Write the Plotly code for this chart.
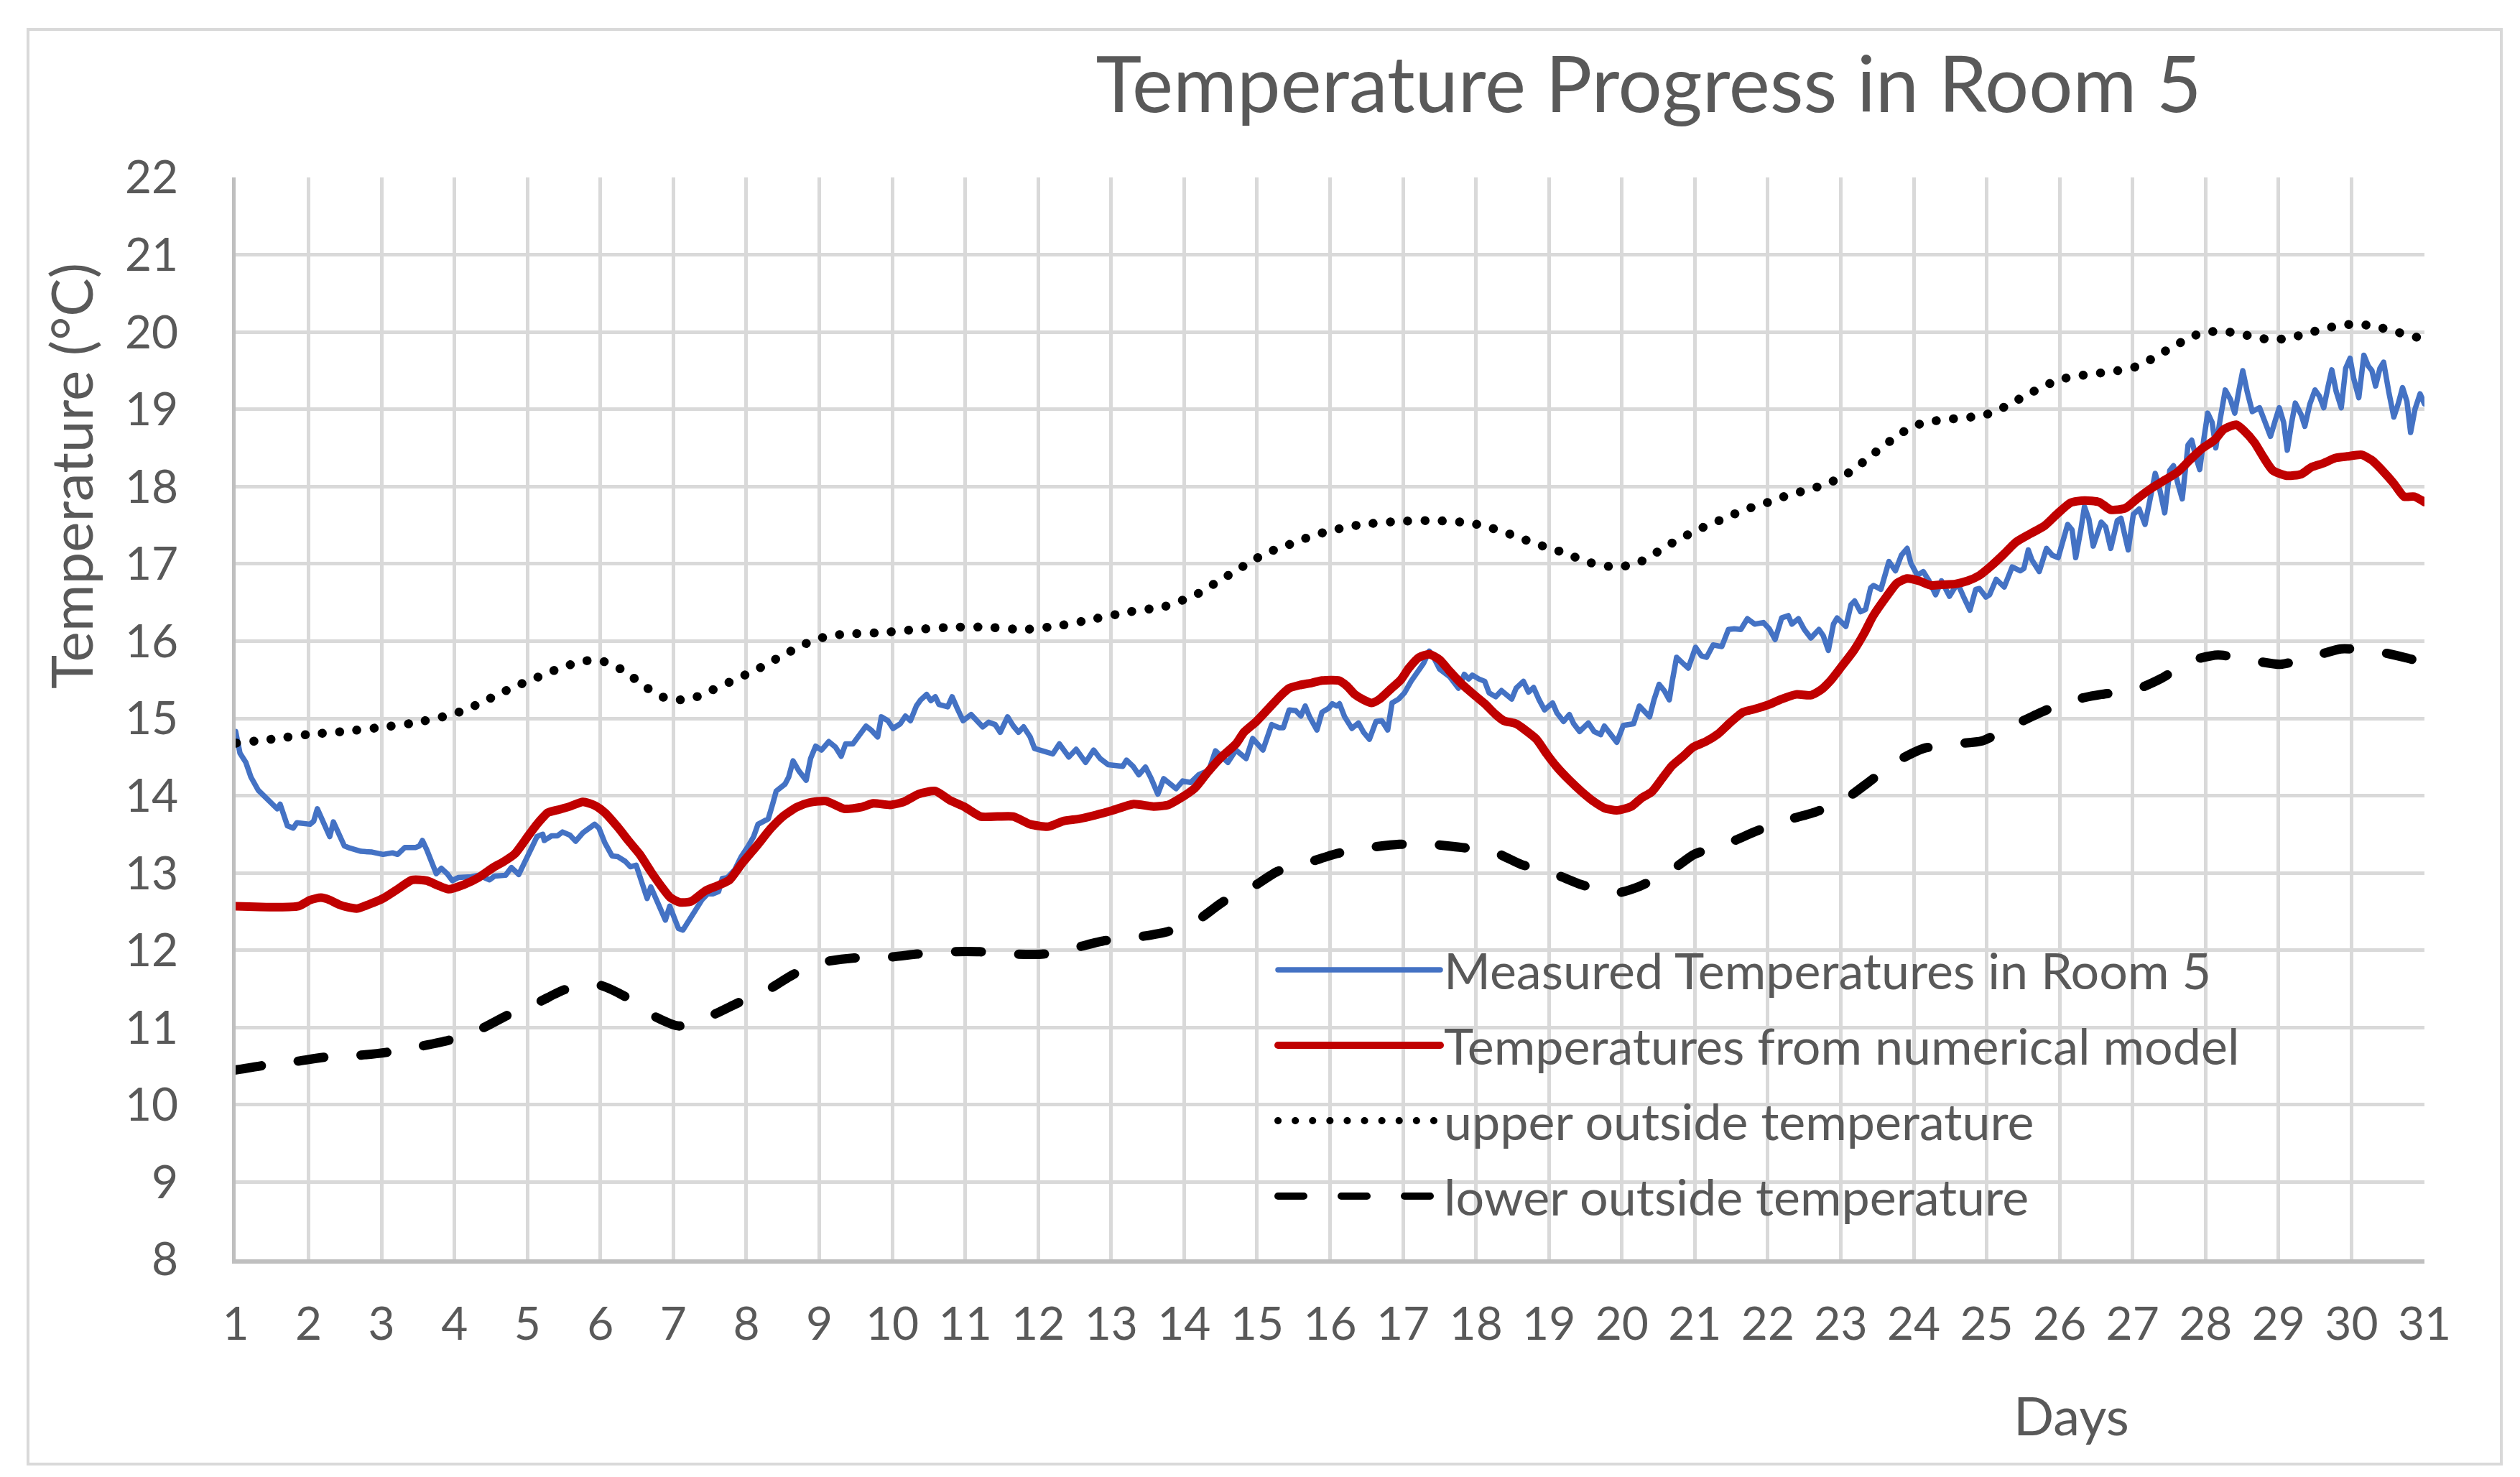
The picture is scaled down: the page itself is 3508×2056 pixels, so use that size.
import plotly.graph_objects as go

# ---------------- data ----------------
measured_day = [
    1.00, 1.06, 1.14, 1.21, 1.31, 1.41, 1.51, 1.57, 1.61, 1.66, 1.71, 1.79, 1.84, 2.02, 2.07, 2.12,
    2.19, 2.29, 2.34, 2.42, 2.49, 2.57, 2.72, 2.87, 3.02, 3.15, 3.22, 3.32, 3.47, 3.52, 3.56, 3.62,
    3.70, 3.75, 3.82, 3.90, 3.97, 4.05, 4.23, 4.33, 4.48, 4.55, 4.70, 4.78, 4.88, 4.95, 5.06, 5.13,
    5.21, 5.23, 5.33, 5.41, 5.48, 5.58, 5.66, 5.76, 5.86, 5.92, 5.98, 6.06, 6.16, 6.24, 6.34, 6.41,
    6.49, 6.56, 6.64, 6.69, 6.76, 6.84, 6.89, 6.95, 7.02, 7.07, 7.13, 7.19, 7.29, 7.39, 7.47, 7.54,
    7.62, 7.67, 7.74, 7.84, 7.93, 8.02, 8.10, 8.16, 8.24, 8.30, 8.36, 8.41, 8.53, 8.58, 8.64, 8.72,
    8.82, 8.88, 8.95, 9.03, 9.13, 9.22, 9.30, 9.36, 9.46, 9.51, 9.64, 9.71, 9.80, 9.85, 9.94, 10.01,
    10.11, 10.18, 10.25, 10.33, 10.39, 10.47, 10.53, 10.59, 10.64, 10.76, 10.82, 10.90, 10.97, 11.08,
    11.15, 11.24, 11.32, 11.41, 11.48, 11.58, 11.66, 11.73, 11.80, 11.89, 11.95, 12.08, 12.20, 12.29,
    12.42, 12.52, 12.65, 12.76, 12.85, 12.96, 13.16, 13.21, 13.30, 13.38, 13.47, 13.55, 13.64, 13.72,
    13.84, 13.89, 13.98, 14.09, 14.20, 14.34, 14.43, 14.51, 14.60, 14.71, 14.85, 14.94, 15.08, 15.16,
    15.20, 15.30, 15.36, 15.44, 15.53, 15.60, 15.66, 15.72, 15.82, 15.89, 15.98, 16.03, 16.09, 16.13,
    16.20, 16.30, 16.39, 16.46, 16.54, 16.63, 16.71, 16.79, 16.85, 16.94, 17.02, 17.11, 17.19, 17.28,
    17.36, 17.42, 17.50, 17.64, 17.76, 17.84, 17.90, 17.95, 18.04, 18.12, 18.18, 18.27, 18.35, 18.49,
    18.55, 18.65, 18.72, 18.79, 18.86, 18.94, 19.05, 19.11, 19.20, 19.28, 19.34, 19.42, 19.54, 19.62,
    19.71, 19.76, 19.85, 19.93, 20.02, 20.16, 20.24, 20.33, 20.38, 20.44, 20.51, 20.58, 20.65, 20.69,
    20.75, 20.84, 20.91, 21.01, 21.09, 21.16, 21.25, 21.37, 21.46, 21.54, 21.63, 21.72, 21.82, 21.94,
    22.02, 22.10, 22.19, 22.28, 22.33, 22.42, 22.50, 22.59, 22.70, 22.76, 22.83, 22.90, 22.95, 23.07,
    23.14, 23.19, 23.27, 23.34, 23.41, 23.45, 23.55, 23.66, 23.75, 23.83, 23.91, 23.96, 24.05, 24.13,
    24.21, 24.30, 24.38, 24.49, 24.60, 24.68, 24.77, 24.85, 24.90, 24.99, 25.04, 25.13, 25.24, 25.35,
    25.46, 25.51, 25.57, 25.62, 25.72, 25.82, 25.90, 25.98, 26.04, 26.11, 26.17, 26.22, 26.29, 26.34,
    26.40, 26.46, 26.57, 26.63, 26.70, 26.79, 26.84, 26.94, 27.01, 27.09, 27.17, 27.24, 27.31, 27.37,
    27.44, 27.51, 27.56, 27.62, 27.68, 27.76, 27.81, 27.87, 27.92, 27.98, 28.03, 28.09, 28.14, 28.20,
    28.27, 28.34, 28.40, 28.46, 28.51, 28.57, 28.64, 28.74, 28.81, 28.89, 28.96, 29.01, 29.07, 29.12,
    29.18, 29.23, 29.31, 29.36, 29.43, 29.50, 29.56, 29.62, 29.68, 29.73, 29.79, 29.86, 29.92, 29.98,
    30.03, 30.10, 30.17, 30.23, 30.28, 30.33, 30.39, 30.44, 30.51, 30.58, 30.64, 30.70, 30.76, 30.81,
    30.87, 30.94, 31.00,
]
measured_temp = [
    14.83, 14.55, 14.43, 14.24, 14.07, 13.98, 13.89, 13.83, 13.89, 13.72, 13.61, 13.58, 13.65, 13.63, 13.67, 13.83,
    13.69, 13.47, 13.66, 13.49, 13.35, 13.32, 13.28, 13.27, 13.24, 13.26, 13.24, 13.33, 13.33, 13.35, 13.42, 13.30,
    13.13, 12.99, 13.06, 12.99, 12.90, 12.94, 12.95, 12.97, 12.91, 12.96, 12.97, 13.07, 12.98, 13.13, 13.33, 13.47,
    13.50, 13.42, 13.48, 13.48, 13.53, 13.49, 13.41, 13.52, 13.59, 13.63, 13.58, 13.39, 13.22, 13.21, 13.15, 13.08,
    13.10, 12.88, 12.67, 12.82, 12.68, 12.51, 12.39, 12.57, 12.39, 12.28, 12.26, 12.36, 12.50, 12.65, 12.73, 12.73,
    12.76, 12.93, 12.94, 13.04, 13.21, 13.34, 13.47, 13.63, 13.66, 13.70, 13.89, 14.06, 14.15, 14.24, 14.45, 14.32,
    14.20, 14.48, 14.64, 14.59, 14.70, 14.63, 14.51, 14.67, 14.67, 14.74, 14.90, 14.85, 14.76, 15.02, 14.97, 14.87,
    14.93, 15.03, 14.97, 15.16, 15.24, 15.31, 15.23, 15.28, 15.18, 15.15, 15.28, 15.11, 14.97, 15.05,
    14.97, 14.89, 14.95, 14.92, 14.82, 15.02, 14.90, 14.82, 14.89, 14.76, 14.61, 14.58, 14.54, 14.67,
    14.50, 14.60, 14.43, 14.59, 14.48, 14.40, 14.38, 14.46, 14.38, 14.27, 14.37, 14.22, 14.02, 14.22,
    14.12, 14.09, 14.19, 14.17, 14.27, 14.33, 14.58, 14.51, 14.43, 14.59, 14.48, 14.74, 14.59, 14.81,
    14.92, 14.88, 14.88, 15.11, 15.10, 15.03, 15.16, 15.02, 14.85, 15.08, 15.13, 15.19, 15.16, 15.19,
    15.02, 14.87, 14.94, 14.82, 14.73, 14.96, 14.97, 14.85, 15.20, 15.25, 15.33, 15.48, 15.59, 15.71,
    15.87, 15.79, 15.64, 15.54, 15.39, 15.57, 15.51, 15.56, 15.51, 15.48, 15.33, 15.28, 15.36, 15.25,
    15.39, 15.48, 15.34, 15.40, 15.25, 15.11, 15.20, 15.07, 14.96, 15.05, 14.93, 14.83, 14.94, 14.83,
    14.79, 14.90, 14.79, 14.69, 14.91, 14.93, 15.16, 15.08, 15.02, 15.24, 15.44, 15.36, 15.24, 15.48,
    15.79, 15.71, 15.65, 15.92, 15.81, 15.79, 15.95, 15.93, 16.15, 16.16, 16.15, 16.29, 16.22, 16.24,
    16.16, 16.02, 16.30, 16.33, 16.22, 16.29, 16.15, 16.04, 16.15, 16.07, 15.88, 16.22, 16.30, 16.19,
    16.47, 16.52, 16.38, 16.41, 16.69, 16.72, 16.67, 17.03, 16.91, 17.11, 17.20, 17.01, 16.85, 16.90,
    16.78, 16.60, 16.78, 16.58, 16.75, 16.58, 16.40, 16.67, 16.68, 16.57, 16.60, 16.80, 16.70, 16.96,
    16.91, 16.94, 17.18, 17.05, 16.90, 17.20, 17.11, 17.08, 17.28, 17.51, 17.44, 17.08, 17.44, 17.74,
    17.58, 17.23, 17.54, 17.48, 17.20, 17.56, 17.59, 17.18, 17.64, 17.71, 17.51, 17.87, 18.17, 17.97,
    17.66, 18.21, 18.27, 18.04, 17.84, 18.54, 18.60, 18.37, 18.22, 18.64, 18.95, 18.83, 18.50, 18.87,
    19.25, 19.13, 18.95, 19.26, 19.50, 19.23, 18.97, 19.02, 18.83, 18.65, 18.87, 19.02, 18.83, 18.47,
    18.83, 19.08, 18.93, 18.78, 19.07, 19.25, 19.17, 19.02, 19.30, 19.51, 19.23, 19.02, 19.53, 19.66,
    19.40, 19.15, 19.70, 19.56, 19.50, 19.30, 19.53, 19.61, 19.23, 18.90, 19.07, 19.28, 19.10, 18.70,
    19.00, 19.20, 19.07,
]

model_day = [
    1.00, 1.86, 2.02, 2.17, 2.29, 2.42, 2.52, 2.67, 2.82, 3.02, 3.22, 3.42, 3.62, 3.77, 3.92, 4.13,
    4.33, 4.53, 4.68, 4.83, 4.98, 5.13, 5.28, 5.43, 5.58, 5.76, 5.93, 6.06, 6.24, 6.39, 6.54, 6.69,
    6.84, 6.96, 7.09, 7.24, 7.44, 7.62, 7.77, 7.93, 8.16, 8.33, 8.50, 8.69, 8.86, 9.09, 9.34, 9.57,
    9.74, 9.97, 10.16, 10.36, 10.59, 10.79, 10.98, 11.21, 11.44, 11.66, 11.89, 12.14, 12.34, 12.56,
    12.79, 13.02, 13.30, 13.58, 13.78, 13.92, 14.15, 14.32, 14.49, 14.71, 14.82, 14.99, 15.16, 15.33,
    15.44, 15.58, 15.75, 15.89, 16.12, 16.23, 16.34, 16.46, 16.57, 16.68, 16.82, 16.97, 17.08, 17.22,
    17.36, 17.50, 17.64, 17.81, 17.98, 18.12, 18.27, 18.38, 18.55, 18.66, 18.83, 18.97, 19.11, 19.28,
    19.45, 19.62, 19.76, 19.93, 20.13, 20.27, 20.41, 20.55, 20.69, 20.84, 20.98, 21.15, 21.32, 21.49,
    21.66, 21.82, 21.99, 22.19, 22.39, 22.59, 22.73, 22.87, 23.01, 23.18, 23.32, 23.44, 23.63, 23.77,
    23.91, 24.07, 24.24, 24.38, 24.57, 24.74, 24.90, 25.07, 25.24, 25.40, 25.60, 25.79, 25.96, 26.15,
    26.34, 26.54, 26.70, 26.90, 27.06, 27.23, 27.40, 27.62, 27.78, 27.95, 28.12, 28.25, 28.42, 28.53,
    28.67, 28.78, 28.92, 29.11, 29.31, 29.45, 29.61, 29.78, 29.94, 30.14, 30.28, 30.44, 30.58, 30.72,
    30.86, 31.00,
]
model_temp = [
    12.57, 12.57, 12.65, 12.68, 12.65, 12.59, 12.56, 12.54, 12.59, 12.67, 12.79, 12.91, 12.90, 12.84, 12.79, 12.85,
    12.94, 13.07, 13.15, 13.25, 13.44, 13.63, 13.78, 13.82, 13.86, 13.92, 13.87, 13.78, 13.59, 13.41, 13.24, 13.02,
    12.82, 12.68, 12.62, 12.63, 12.77, 12.84, 12.91, 13.11, 13.37, 13.57, 13.73, 13.85, 13.91, 13.93, 13.83, 13.85,
    13.90, 13.88, 13.92, 14.02, 14.06, 13.94, 13.86, 13.73, 13.73, 13.73, 13.63, 13.60, 13.67, 13.70,
    13.75, 13.81, 13.89, 13.86, 13.88, 13.95, 14.10, 14.30, 14.48, 14.67, 14.82, 14.96, 15.13, 15.30,
    15.39, 15.43, 15.46, 15.49, 15.49, 15.42, 15.31, 15.24, 15.20, 15.25, 15.37, 15.50, 15.65, 15.79,
    15.83, 15.76, 15.61, 15.44, 15.30, 15.19, 15.05, 14.97, 14.93, 14.86, 14.73, 14.54, 14.37, 14.20,
    14.05, 13.92, 13.84, 13.81, 13.86, 13.97, 14.05, 14.22, 14.39, 14.51, 14.63, 14.70, 14.80, 14.95,
    15.08, 15.12, 15.17, 15.25, 15.31, 15.30, 15.37, 15.50, 15.67, 15.88, 16.10, 16.32, 16.58, 16.75,
    16.81, 16.78, 16.72, 16.73, 16.74, 16.78, 16.85, 16.98, 17.13, 17.28, 17.39, 17.49, 17.64, 17.79,
    17.82, 17.80, 17.70, 17.72, 17.84, 17.96, 18.06, 18.19, 18.34, 18.49, 18.60, 18.74, 18.80, 18.72,
    18.57, 18.40, 18.21, 18.14, 18.16, 18.25, 18.30, 18.37, 18.39, 18.41, 18.34, 18.19, 18.04, 17.87,
    17.87, 17.80,
]

upper_day = [
    1.01, 1.49, 1.97, 2.47, 2.96, 3.44, 3.92, 4.15, 4.38, 4.60, 4.82, 5.06, 5.28, 5.51, 5.75, 5.99,
    6.22, 6.43, 6.63, 6.84, 7.08, 7.32, 7.54, 7.77, 8.00, 8.22, 8.43, 8.65, 8.87, 9.10, 9.34, 9.84,
    10.33, 10.82, 11.31, 11.80, 12.29, 12.78, 13.26, 13.74, 13.98, 14.20, 14.41, 14.62, 14.83, 15.05,
    15.26, 15.50, 15.72, 15.97, 16.20, 16.45, 16.94, 17.42, 17.91, 18.15, 18.39, 18.62, 18.85, 19.09,
    19.32, 19.55, 19.78, 20.03, 20.26, 20.48, 20.69, 20.91, 21.13, 21.36, 21.58, 21.81, 22.05, 22.28,
    22.52, 22.76, 22.99, 23.19, 23.39, 23.58, 23.78, 23.99, 24.22, 24.47, 24.95, 25.18, 25.40, 25.62,
    25.83, 26.07, 26.31, 26.80, 27.04, 27.26, 27.48, 27.69, 27.92, 28.16, 28.40, 28.65, 28.89, 29.14,
    29.38, 29.62, 29.86, 30.10, 30.34, 30.58, 30.82, 31.00,
]
upper_temp = [
    14.68, 14.73, 14.79, 14.83, 14.88, 14.94, 15.04, 15.11, 15.21, 15.31, 15.41, 15.50, 15.59, 15.67, 15.74, 15.75,
    15.67, 15.54, 15.40, 15.28, 15.24, 15.28, 15.37, 15.47, 15.57, 15.67, 15.78, 15.89, 15.99, 16.06, 16.09, 16.11,
    16.15, 16.18, 16.18, 16.15, 16.20, 16.29, 16.38, 16.45, 16.53, 16.62, 16.74, 16.86, 16.98, 17.10,
    17.19, 17.27, 17.35, 17.42, 17.47, 17.51, 17.55, 17.56, 17.53, 17.48, 17.41, 17.33, 17.25, 17.18,
    17.10, 17.02, 16.97, 16.97, 17.03, 17.15, 17.27, 17.38, 17.48, 17.57, 17.66, 17.74, 17.81, 17.89,
    17.95, 18.02, 18.11, 18.23, 18.38, 18.52, 18.66, 18.78, 18.84, 18.87, 18.92, 19.00, 19.11, 19.22,
    19.32, 19.40, 19.44, 19.50, 19.55, 19.65, 19.77, 19.88, 19.98, 20.01, 19.99, 19.94, 19.90, 19.92,
    19.98, 20.04, 20.09, 20.10, 20.07, 20.01, 19.95, 19.91,
]

lower_day = [
    1.00, 1.39, 1.82, 2.26, 2.69, 3.08, 3.55, 3.94, 4.38, 4.73, 5.16, 5.51, 5.98, 6.34, 6.73, 7.08,
    7.51, 7.91, 8.30, 8.65, 9.08, 9.48, 9.95, 10.34, 10.77, 11.20, 11.64, 12.07, 12.50, 12.89, 13.36, 13.77,
    14.17, 14.54, 14.91, 15.28, 15.72, 16.09, 16.54, 16.95, 17.40, 17.80, 18.25, 18.62, 19.07, 19.44,
    19.92, 20.25, 20.70, 20.99, 21.47, 21.84, 22.25, 22.66, 23.07, 23.39, 23.76, 24.13, 24.57, 24.94,
    25.39, 25.75, 26.00, 26.34, 26.57, 27.04, 27.40, 27.78, 28.17, 28.64, 29.03, 29.47, 29.86, 30.33,
    30.72, 31.00,
]
lower_temp = [
    10.45, 10.51, 10.56, 10.62, 10.64, 10.68, 10.76, 10.84, 10.99, 11.16, 11.33, 11.49, 11.55, 11.40, 11.15, 11.02,
    11.15, 11.33, 11.49, 11.69, 11.85, 11.90, 11.91, 11.95, 11.98, 11.98, 11.95, 11.95, 12.03, 12.12, 12.17, 12.24,
    12.38, 12.63, 12.80, 13.02, 13.14, 13.25, 13.33, 13.37, 13.37, 13.33, 13.27, 13.11, 12.99, 12.85,
    12.74, 12.83, 13.05, 13.24, 13.39, 13.54, 13.68, 13.79, 13.96, 14.18, 14.44, 14.61, 14.67, 14.71,
    14.92, 15.08, 15.18, 15.27, 15.31, 15.37, 15.52, 15.74, 15.82, 15.75, 15.70, 15.80, 15.90, 15.87,
    15.79, 15.72,
]

day_ticks = list(range(1, 32))
temp_ticks = list(range(8, 23))

series_names = [
    "Measured Temperatures in Room 5",
    "Temperatures from numerical model",
    "upper outside temperature",
    "lower outside temperature",
]

# ---------------- layout constants (pixels of the 3508 x 2056 canvas) ----------------
W, H = 3508, 2056
PL, PR, PT, PB = 320, 3367, 239, 1745
PW, PH = PR - PL, PB - PT


def px_x(x):
    return (x - PL) / PW


def px_y(y):
    return (PB - y) / PH


TEXT = "#595959"
GRID = "#D9D9D9"
AXIS = "#BFBFBF"
FONT = "Lato"

fig = go.Figure()
fig.add_trace(go.Scatter(
    x=measured_day, y=measured_temp, name=series_names[0], mode="lines",
    line=dict(color="#4472C4", width=7.5), legendgroup="a"))
fig.add_trace(go.Scatter(
    x=model_day, y=model_temp, name=series_names[1], mode="lines",
    line=dict(color="#C00000", width=12, shape="spline", smoothing=0.6), legendgroup="b"))
fig.add_trace(go.Scatter(
    x=upper_day, y=upper_temp, name=series_names[2], mode="lines",
    line=dict(color="#000000", width=12.5, dash="0.1px,24px", shape="spline", smoothing=0.6),
    legendgroup="c"))
fig.add_trace(go.Scatter(
    x=lower_day, y=lower_temp, name=series_names[3], mode="lines",
    line=dict(color="#000000", width=13, dash="36px,52px", shape="spline", smoothing=0.6),
    legendgroup="d"))

fig.update_layout(
    width=W, height=H,
    margin=dict(l=PL, r=W - PR, t=PT, b=H - PB, autoexpand=False),
    paper_bgcolor="white", plot_bgcolor="white",
    font=dict(family=FONT, color=TEXT, size=64),
    title=dict(text="Temperature Progress in Room 5", xref="container", yref="container",
               x=2287 / W, y=1 - 110 / H, xanchor="center", yanchor="middle",
               font=dict(family=FONT, size=108, color=TEXT)),
    xaxis=dict(range=[1, 31], tickmode="array", tickvals=day_ticks,
               ticktext=[str(d) for d in day_ticks],
               showgrid=True, gridcolor=GRID, gridwidth=5,
               showline=True, linecolor=AXIS, linewidth=6,
               ticks="", ticklabelstandoff=29, zeroline=False,
               tickfont=dict(family=FONT, size=64, color=TEXT)),
    yaxis=dict(range=[8, 22], tickmode="array", tickvals=temp_ticks,
               ticktext=[str(t) for t in temp_ticks],
               showgrid=True, gridcolor=GRID, gridwidth=5,
               showline=True, linecolor=AXIS, linewidth=5,
               ticks="", ticklabelstandoff=62, zeroline=False,
               tickfont=dict(family=FONT, size=64, color=TEXT)),
    showlegend=True,
    legend=dict(x=px_x(1766), y=px_y(1290), xanchor="left", yanchor="top",
                bgcolor="rgba(0,0,0,0)", borderwidth=0, itemwidth=226,
                tracegroupgap=11, traceorder="grouped",
                font=dict(family=FONT, size=70, color=TEXT)),
    annotations=[
        dict(text="Temperature (°C)", xref="paper", yref="paper",
             x=px_x(90), y=px_y(655), xanchor="center", yanchor="middle",
             textangle=-90, showarrow=False, font=dict(family=FONT, size=80, color=TEXT)),
        dict(text="Days", xref="paper", yref="paper",
             x=px_x(2875), y=px_y(1961), xanchor="center", yanchor="middle",
             showarrow=False, font=dict(family=FONT, size=74, color=TEXT)),
    ],
    shapes=[
        dict(type="rect", xref="paper", yref="paper",
             x0=px_x(31), x1=px_x(3474), y0=px_y(2030), y1=px_y(33),
             line=dict(color=GRID, width=4), fillcolor="rgba(0,0,0,0)", layer="below"),
    ],
)

post = """
document.querySelectorAll('path.js-line').forEach(function(p){
  p.style.strokeLinecap = 'round';
  p.style.strokeLinejoin = 'round';
});
"""

fig.write_html("out.html", post_script=post)
